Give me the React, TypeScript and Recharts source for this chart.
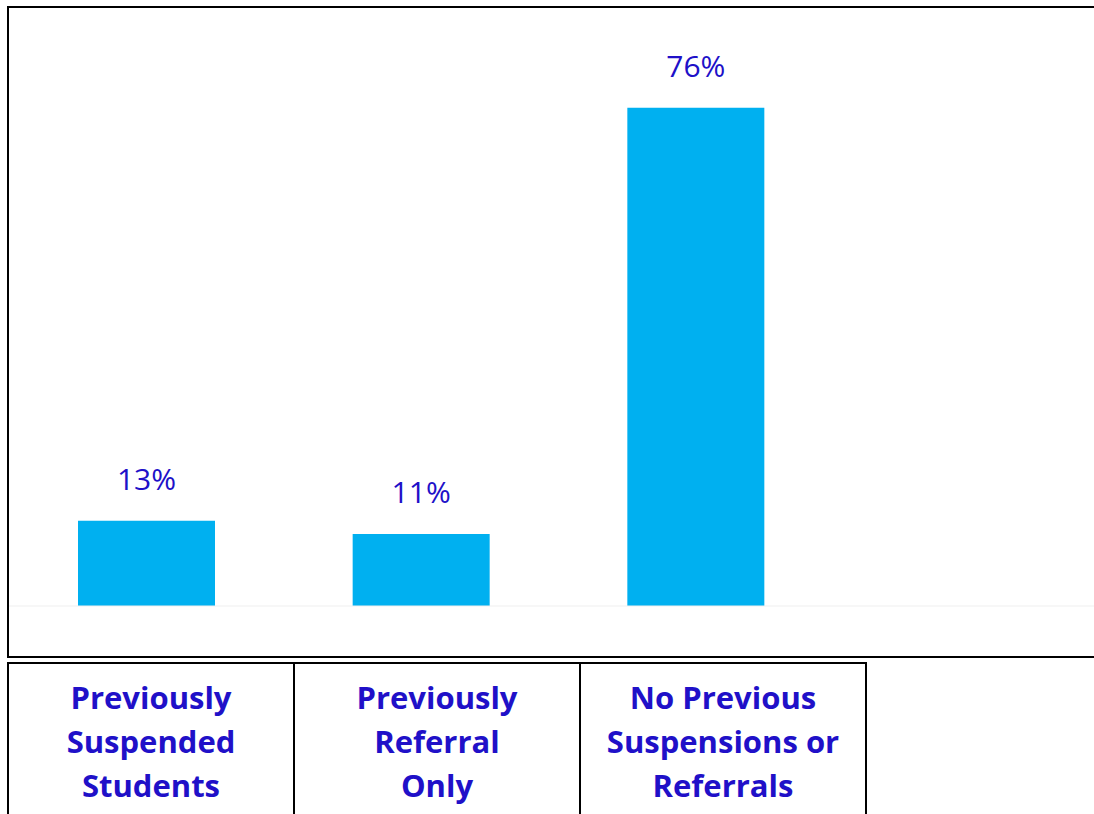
import React from 'react';
import { BarChart, Bar, XAxis, YAxis, LabelList } from 'recharts';

const categories = ['Previously Suspended Students', 'Previously Referral Only', 'No Previous Suspensions or Referrals'];
const categoryLines = [
  ['Previously', 'Suspended', 'Students'],
  ['Previously', 'Referral', 'Only'],
  ['No Previous', 'Suspensions or', 'Referrals'],
];
const percents = [13, 11, 76];

const labelBlue = '#2010C8';
const barBlue = '#00B0F0';

const App: React.FC = () => {
  const data = categories.map((name, i) => ({ name, value: percents[i] }));

  return (
    <div style={{ position: 'absolute', left: 0, top: 0, width: 1094, height: 814, overflow: 'hidden', background: '#fff', fontFamily: '"Open Sans", sans-serif' }}>
      {/* chart frame */}
      <div style={{ position: 'absolute', left: 7, top: 6, width: 1110, height: 648, border: '2px solid #000' }}>
        <BarChart width={1098} height={648} data={data} margin={{ top: 8, right: 0, left: 0, bottom: 49 }}>
          <XAxis
            dataKey="name"
            tick={false}
            tickLine={false}
            height={1}
            stroke="#efefef"
            padding={{ left: 0, right: 274 }}
          />
          <YAxis hide domain={[0, 90]} />
          <Bar dataKey="value" fill={barBlue} barSize={137} isAnimationActive={false}>
            <LabelList
              dataKey="value"
              position="top"
              offset={31}
              fill={labelBlue}
              fontSize={30}
              fontFamily='"Open Sans", sans-serif'
              formatter={(v: any) => `${v}%`}
            />
          </Bar>
        </BarChart>
      </div>

      {/* category table */}
      <table style={{ position: 'absolute', left: 7, top: 662, borderCollapse: 'collapse', tableLayout: 'fixed' }}>
        <tbody>
          <tr>
            {categoryLines.map((lines, i) => (
              <td
                key={i}
                style={{
                  width: 282,
                  height: 170,
                  border: '2px solid #000',
                  verticalAlign: 'top',
                  textAlign: 'center',
                  color: labelBlue,
                  fontWeight: 700,
                  fontSize: 31,
                  lineHeight: '44px',
                  paddingTop: 11,
                }}
              >
                {lines.map((l, j) => (
                  <div key={j}>{l}</div>
                ))}
              </td>
            ))}
          </tr>
        </tbody>
      </table>
    </div>
  );
};

export default App;
